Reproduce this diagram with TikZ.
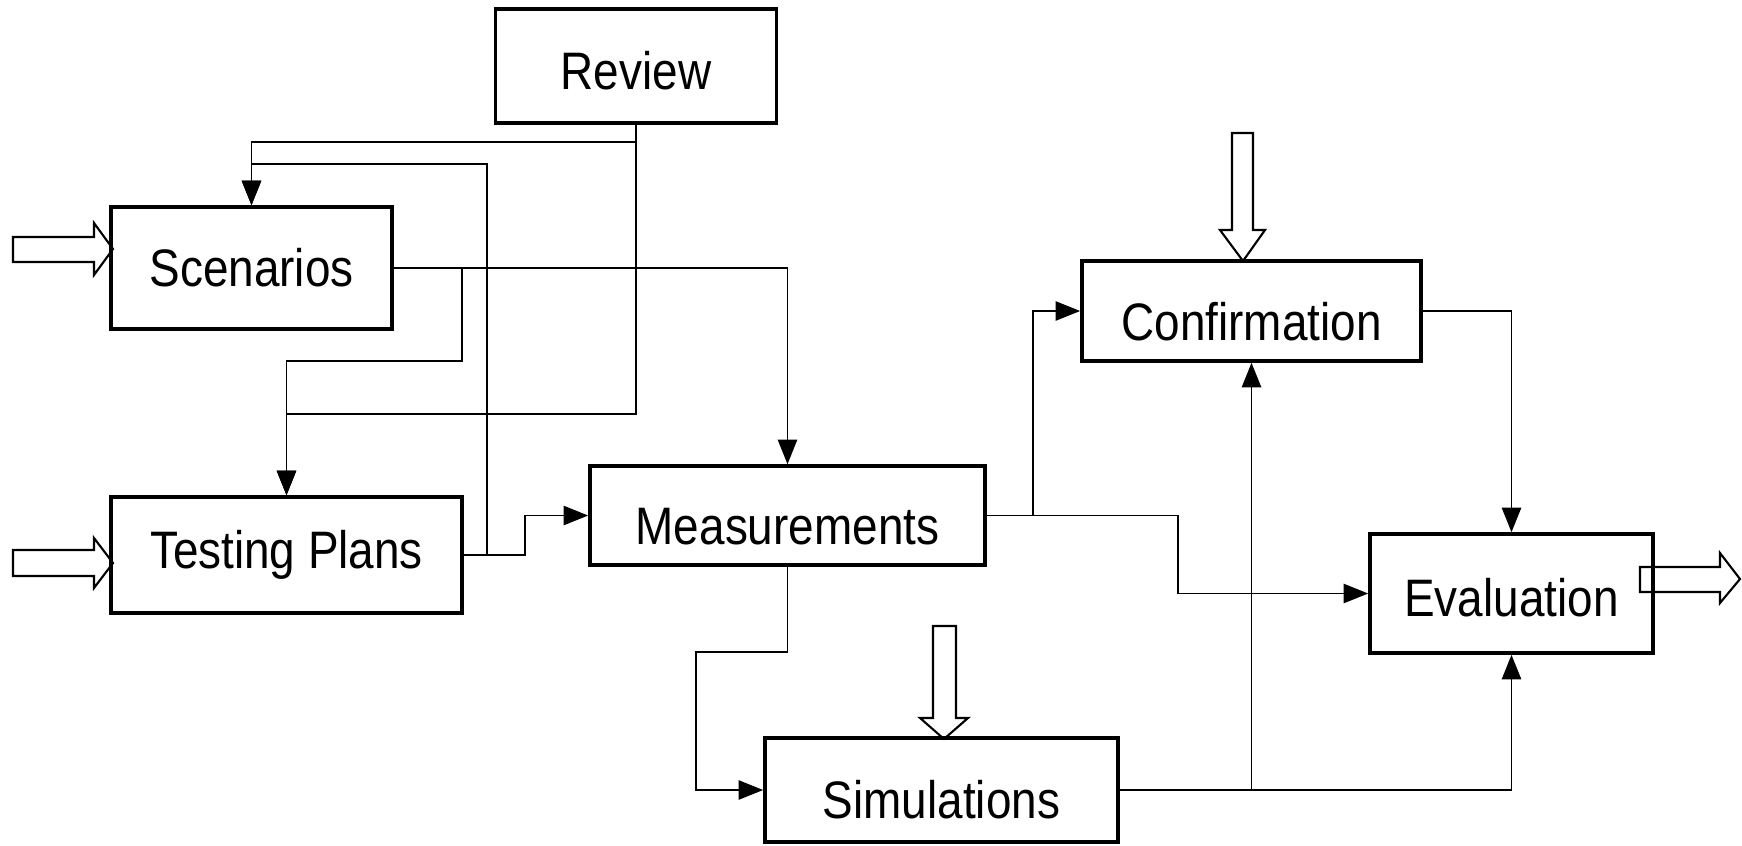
\documentclass[tikz,border=0pt]{standalone}
\usepackage{fontspec}
\setmainfont{Liberation Sans}[FakeStretch=0.87]
\usetikzlibrary{arrows.meta}

\begin{document}
\begin{tikzpicture}[x=0.01cm,y=-0.01cm,
    box/.style={draw,line width=1pt,font=\fontsize{15}{18}\selectfont},
    low/.style={text height=#1,text depth=0pt},
    conn/.style={line width=0.5pt,-{Triangle[length=7pt,width=5.5pt]}},
    hollow/.style={line width=0.6pt,line join=miter}]
  \useasboundingbox (0,0) rectangle (1742,845);

  % Boxes
  \node[box,low=0.46cm,minimum width=2.81cm,minimum height=1.14cm] (review) at (636,66) {Review};
  \node[box,minimum width=2.81cm,minimum height=1.22cm] (scen) at (251.5,268) {Scenarios};
  \node[box,minimum width=3.51cm,minimum height=1.16cm] (test) at (286.5,555) {Testing Plans};
  \node[box,low=0.58cm,minimum width=3.95cm,minimum height=0.99cm] (meas) at (787.5,515.5) {Measurements};
  \node[box,low=0.56cm,minimum width=3.53cm,minimum height=1.04cm] (sim) at (941.5,790) {Simulations};
  \node[box,low=0.58cm,minimum width=3.39cm,minimum height=1.00cm] (conf) at (1251.5,311) {Confirmation};
  \node[box,low=0.46cm,minimum width=2.83cm,minimum height=1.19cm] (eval) at (1511.5,593.5) {Evaluation};

  % Connectors
  \draw[conn] (review.south) |- (251.5,142) -- (scen.north);
  \draw[conn] (review.south) |- (286.5,414) -- (test.north);
  \draw[conn] (test.east) -- (487,555) |- (251.5,164) -- (scen.north);
  \draw[conn] (test.east) -- (525,555) |- (meas.west);
  \draw[conn] (scen.east) -| (meas.north);
  \draw[conn] (scen.east) -- (462,268) |- (286.5,361) -- (test.north);
  \draw[conn] (meas.south) |- (696,652) |- (sim.west);
  \draw[conn] (meas.east) -- (1033,515.5) |- (conf.west);
  \draw[conn] (meas.east) -| (1178,593.5) -- (eval.west);
  \draw[conn] (sim.east) -| (eval.south);
  \draw[conn] (sim.east) -| (conf.south);
  \draw[conn] (conf.east) -| (eval.north);

  % Input and output arrows
  \draw[hollow] (13,237) -- (94,237) -- (94,223) -- (113,249) -- (94,275) -- (94,262) -- (13,262) -- cycle;
  \draw[hollow] (13,550) -- (94,550) -- (94,538) -- (113,563) -- (94,588) -- (94,576) -- (13,576) -- cycle;
  \draw[hollow] (1232,133) -- (1253,133) -- (1253,230) -- (1265,230) -- (1243,261) -- (1220,230) -- (1232,230) -- cycle;
  \draw[hollow] (933,626) -- (956,626) -- (956,718) -- (968,718) -- (944,739) -- (920,718) -- (933,718) -- cycle;
  \draw[hollow] (1640,567) -- (1720,567) -- (1720,553) -- (1740,579) -- (1720,603) -- (1720,592) -- (1640,592) -- cycle;
\end{tikzpicture}
\end{document}
